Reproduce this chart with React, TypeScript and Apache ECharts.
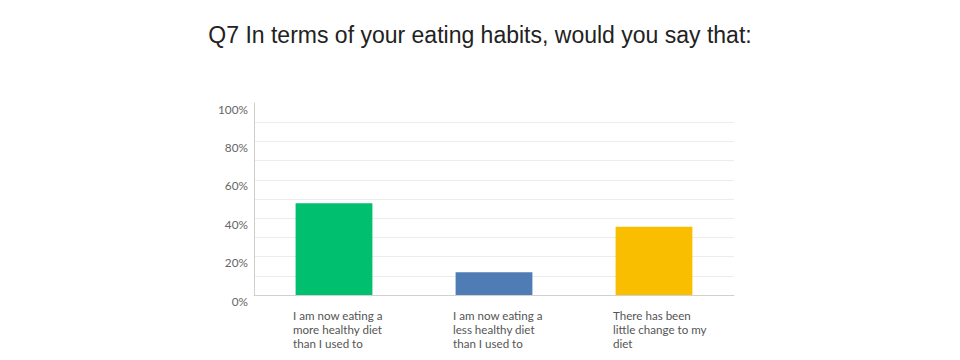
import React, { useEffect, useRef } from "react";
import * as echarts from "echarts";

const title = "Q7 In terms of your eating habits, would you say that:";
const categories = [
  "I am now eating a\nmore healthy diet\nthan I used to",
  "I am now eating a\nless healthy diet\nthan I used to",
  "There has been\nlittle change to my\ndiet",
];
const values = [47.8, 11.8, 35.6];
const barColors = ["#00BF6F", "#507CB6", "#F9BE00"];
const yTicks = [0, 20, 40, 60, 80, 100];

export default function App() {
  const ref = useRef<HTMLDivElement>(null);
  useEffect(() => {
    document.body.style.margin = "0";
    const chart = echarts.init(ref.current!, null, { renderer: "svg" });
    const font = "Lato";
    const gridTop = 103;
    const gridBottom = 65;
    chart.setOption({
      animation: false,
      backgroundColor: "#ffffff",
      title: {
        text: title,
        left: "center",
        top: 18,
        textStyle: {
          fontFamily: "Liberation Sans, Arial, sans-serif",
          fontSize: 23,
          fontWeight: "normal",
          color: "#222222",
        },
      },
      grid: [
        { left: 254, right: 226, top: gridTop, bottom: gridBottom },
        { left: 213, width: 480, top: gridTop, bottom: gridBottom },
      ],
      xAxis: [
        {
          type: "category",
          gridIndex: 0,
          data: categories,
          axisLine: { lineStyle: { color: "#d0d0d0", width: 1 } },
          axisTick: { show: false },
          axisLabel: { show: false },
        },
        {
          type: "category",
          gridIndex: 1,
          data: categories,
          axisLine: { show: false },
          axisTick: { show: false },
          axisLabel: {
            align: "left",
            margin: 13,
            fontFamily: font,
            fontSize: 11.6,
            lineHeight: 14.2,
            color: "#555555",
          },
        },
      ],
      yAxis: [
        {
          type: "value",
          gridIndex: 0,
          min: 0,
          max: 100,
          interval: 10,
          axisLine: { show: true, lineStyle: { color: "#d0d0d0", width: 1 } },
          axisTick: { show: false },
          splitLine: {
            show: true,
            showMaxLine: false,
            lineStyle: { color: "#ececec", width: 1 },
          },
          axisLabel: {
            margin: 6,
            verticalAlign: "top",
            lineHeight: 12,
            fontFamily: font,
            fontSize: 11.8,
            color: "#666666",
            formatter: (v: number) => (yTicks.includes(v) ? v + "%" : ""),
          },
        },
        {
          type: "value",
          gridIndex: 1,
          min: 0,
          max: 100,
          show: false,
        },
      ],
      series: [
        {
          type: "bar",
          xAxisIndex: 0,
          yAxisIndex: 0,
          barWidth: "48%",
          data: values.map((v, i) => ({ value: v, itemStyle: { color: barColors[i] } })),
        },
      ],
    });
    return () => chart.dispose();
  }, []);
  return (
    <div
      ref={ref}
      style={{ position: "absolute", left: 0, top: 0, width: 960, height: 360 }}
    />
  );
}
